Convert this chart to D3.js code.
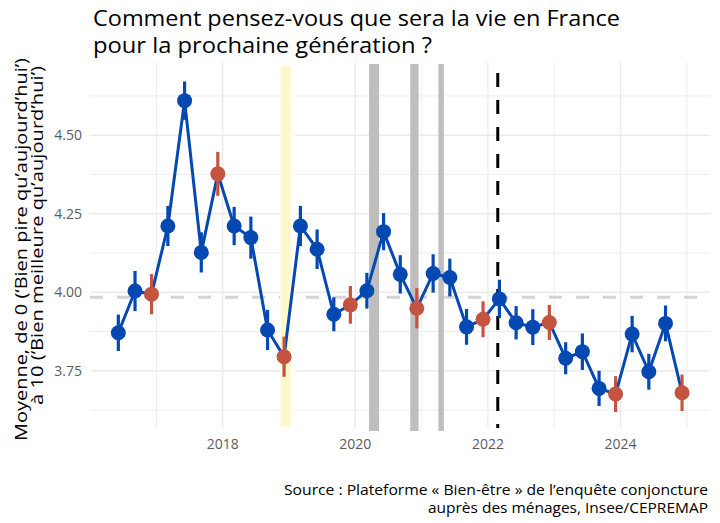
<!DOCTYPE html>
<html>
<head>
<meta charset="utf-8">
<script src="https://cdn.jsdelivr.net/npm/d3@7/dist/d3.min.js"></script>
<style>
  html, body { margin: 0; padding: 0; background: #fff; }
  svg { display: block; font-family: "Open Sans", "DejaVu Sans", sans-serif; }
</style>
</head>
<body>
<svg id="chart" width="720" height="523"></svg>
<script>
// ---- data ----
const dates = ["2016-06-05","2016-09-05","2016-12-05",
  "2017-03-05","2017-06-05","2017-09-05","2017-12-05",
  "2018-03-05","2018-06-05","2018-09-05","2018-12-05",
  "2019-03-05","2019-06-05","2019-09-05","2019-12-05",
  "2020-03-05","2020-06-05","2020-09-05","2020-12-05",
  "2021-03-05","2021-06-05","2021-09-05","2021-12-05",
  "2022-03-05","2022-06-05","2022-09-05","2022-12-05",
  "2023-03-05","2023-06-05","2023-09-05","2023-12-05",
  "2024-03-05","2024-06-05","2024-09-05","2024-12-05"];
const means = [3.871,4.004,3.994,4.211,4.610,4.127,4.377,4.211,4.174,3.880,3.795,
  4.211,4.137,3.930,3.960,4.005,4.193,4.057,3.949,4.060,4.047,3.890,3.914,
  3.979,3.903,3.889,3.904,3.790,3.811,3.694,3.676,3.867,3.747,3.901,3.680];
const ciHalf = [0.058,0.064,0.064,0.064,0.061,0.064,0.070,0.061,0.067,0.064,0.064,
  0.064,0.063,0.054,0.060,0.057,0.059,0.061,0.064,0.061,0.060,0.057,0.057,
  0.061,0.053,0.057,0.056,0.051,0.058,0.056,0.057,0.058,0.057,0.057,0.058];
const grayBands = [["2020-03-17","2020-05-11"],["2020-10-30","2020-12-15"],["2021-04-03","2021-05-03"]];
const yellowBand = ["2018-11-16","2019-01-11"];
const yellowBandMargin = "2019-02-03";
const eventDate = "2022-02-24";
const overallMean = 3.984;
const yMajor = [3.75, 4.00, 4.25, 4.50];
const yMinor = [3.625, 3.875, 4.125, 4.375, 4.625];
const xMajorYears = [2018, 2020, 2022, 2024];
const xMinorYears = [2017, 2019, 2021, 2023, 2025];
const titleLines = ["Comment pensez-vous que sera la vie en France", "pour la prochaine génération ?"];
const yTitleLines = ["Moyenne, de 0 (‘Bien pire qu’aujourd’hui’)", "à 10 (‘Bien meilleure qu’aujourd’hui’)"];
const captionLines = ["Source : Plateforme « Bien-être » de l’enquête conjoncture", "auprès des ménages, Insee/CEPREMAP"];

const parse = d3.timeParse("%Y-%m-%d");
const data = dates.map((d, i) => ({ date: parse(d), mean: means[i], ci: ciHalf[i], dec: parse(d).getMonth() === 11 }));

// ---- layout ----
const svg = d3.select("#chart");
const panel = { left: 90, right: 710, top: 62, bottom: 428 };
const x = d3.scaleTime().domain([parse("2016-01-01"), parse("2025-05-08")]).range([panel.left, panel.right]);
const y = d3.scaleLinear().domain([3.568, 4.733]).range([panel.bottom, panel.top]);
const blue = "#0448b1", red = "#c4543f", grid = "#ebebeb", tickCol = "#5c5c5c";

// grid
const g = svg.append("g");
g.selectAll(".ymin").data(yMinor).join("line")
  .attr("x1", panel.left).attr("x2", panel.right).attr("y1", d => y(d)).attr("y2", d => y(d))
  .attr("stroke", grid).attr("stroke-width", 0.9);
g.selectAll(".ymaj").data(yMajor).join("line")
  .attr("x1", panel.left).attr("x2", panel.right).attr("y1", d => y(d)).attr("y2", d => y(d))
  .attr("stroke", grid).attr("stroke-width", 1.4);
g.selectAll(".xmin").data(xMinorYears).join("line")
  .attr("x1", d => x(new Date(d, 0, 1))).attr("x2", d => x(new Date(d, 0, 1)))
  .attr("y1", panel.top).attr("y2", panel.bottom)
  .attr("stroke", grid).attr("stroke-width", 0.9);
g.selectAll(".xmaj").data(xMajorYears).join("line")
  .attr("x1", d => x(new Date(d, 0, 1))).attr("x2", d => x(new Date(d, 0, 1)))
  .attr("y1", panel.top).attr("y2", panel.bottom)
  .attr("stroke", grid).attr("stroke-width", 1.4);

// mean dashed line
svg.append("line")
  .attr("x1", panel.left).attr("x2", panel.right)
  .attr("y1", y(overallMean)).attr("y2", y(overallMean))
  .attr("stroke", "#d4d4d4").attr("stroke-width", 3).attr("stroke-dasharray", "13 14");

// bands
svg.append("rect")
  .attr("x", x(parse(yellowBand[0])) - 0.5).attr("width", x(parse(yellowBandMargin)) - x(parse(yellowBand[0])) + 0.5)
  .attr("y", panel.top).attr("height", panel.bottom - panel.top).attr("fill", "#fff");
svg.append("rect")
  .attr("x", x(parse(yellowBand[0]))).attr("width", x(parse(yellowBand[1])) - x(parse(yellowBand[0])))
  .attr("y", panel.top + 4).attr("height", panel.bottom - panel.top - 5).attr("fill", "#fff8cc");
svg.selectAll(".gband").data(grayBands).join("rect")
  .attr("x", d => x(parse(d[0]))).attr("width", d => x(parse(d[1])) - x(parse(d[0])))
  .attr("y", panel.top + 2).attr("height", panel.bottom - panel.top + 1).attr("fill", "#bebebe");

// event line
svg.append("line")
  .attr("x1", x(parse(eventDate))).attr("x2", x(parse(eventDate)))
  .attr("y1", panel.top).attr("y2", panel.bottom)
  .attr("stroke", "#000").attr("stroke-width", 3).attr("stroke-dasharray", "14 13").attr("stroke-dashoffset", 16);

// series line
svg.append("path").datum(data)
  .attr("d", d3.line().x(d => x(d.date)).y(d => y(d.mean)))
  .attr("fill", "none").attr("stroke", blue).attr("stroke-width", 3).attr("stroke-linejoin", "round");

// error bars
svg.selectAll(".err").data(data).join("line")
  .attr("x1", d => x(d.date)).attr("x2", d => x(d.date))
  .attr("y1", d => y(d.mean - d.ci)).attr("y2", d => y(d.mean + d.ci))
  .attr("stroke", d => d.dec ? red : blue).attr("stroke-width", 3.2);

// points
svg.selectAll(".pt").data(data).join("circle")
  .attr("cx", d => x(d.date)).attr("cy", d => y(d.mean)).attr("r", 7.5)
  .attr("fill", d => d.dec ? red : blue);

// axes labels
svg.selectAll(".ytick").data(yMajor).join("text")
  .attr("x", 82).attr("y", d => y(d)).attr("dy", "0.36em")
  .attr("text-anchor", "end").attr("font-size", 14).attr("fill", tickCol)
  .text(d => d3.format(".2f")(d));
svg.selectAll(".xtick").data(xMajorYears).join("text")
  .attr("x", d => x(new Date(d, 0, 1))).attr("y", 448.5)
  .attr("text-anchor", "middle").attr("font-size", 14).attr("fill", tickCol)
  .text(d => d);

// y title (rotated)
const yTitlePos = [{ x: 26.5, start: 441, len: 383 }, { x: 42.5, start: 405, len: 339 }];
yTitleLines.forEach((t, i) => {
  const p = yTitlePos[i];
  svg.append("text")
    .attr("transform", "translate(" + p.x + "," + p.start + ") rotate(-90)")
    .attr("font-size", 17).attr("fill", "#000")
    .attr("textLength", p.len).attr("lengthAdjust", "spacingAndGlyphs")
    .text(t);
});

// title
const titleLen = [527, 339];
titleLines.forEach((t, i) => {
  svg.append("text").attr("x", 93).attr("y", 26 + i * 27)
    .attr("font-size", 21.5).attr("fill", "#000")
    .attr("textLength", titleLen[i]).attr("lengthAdjust", "spacingAndGlyphs")
    .text(t);
});

// caption
const capLen = [424, 280];
captionLines.forEach((t, i) => {
  svg.append("text").attr("x", 708 - capLen[i]).attr("y", 495 + i * 18)
    .attr("font-size", 14).attr("fill", "#000")
    .attr("textLength", capLen[i]).attr("lengthAdjust", "spacingAndGlyphs")
    .text(t);
});
</script>
</body>
</html>
